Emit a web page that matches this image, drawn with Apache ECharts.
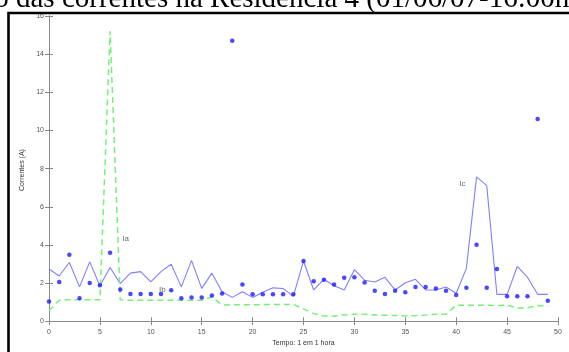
<!DOCTYPE html>
<html>
<head>
<meta charset="utf-8">
<script src="https://cdn.jsdelivr.net/npm/echarts@6/dist/echarts.min.js"></script>
<style>
  html, body { margin: 0; padding: 0; background: #fff; }
  #chart { width: 569px; height: 352px; }
</style>
</head>
<body>
<div id="chart"></div>
<script>
// Hourly readings, one per hour
const hours = [0,1,2,3,4,5,6,7,8,9,10,11,12,13,14,15,16,17,18,19,20,21,22,23,24,
               25,26,27,28,29,30,31,32,33,34,35,36,37,38,39,40,41,42,43,44,45,46,47,48,49];

// Phase A current (A) – dashed green
const ia = [0.55,1.10,1.12,1.12,1.12,1.12,15.2,1.12,1.10,1.10,1.10,1.10,1.10,1.10,1.10,1.10,1.28,0.85,
            0.87,0.87,0.87,0.87,0.88,0.88,0.88,0.65,0.40,0.28,0.26,0.33,0.37,0.37,0.33,0.31,0.30,0.28,
            0.30,0.33,0.37,0.37,0.84,0.84,0.84,0.84,0.82,0.84,0.70,0.70,0.82,0.80];

// Phase B current (A) – markers only
const ib = [1.04,2.06,3.48,1.21,2.01,1.89,3.59,1.67,1.43,1.43,1.43,1.43,1.62,1.21,1.25,1.25,1.35,1.45,
            14.7,1.92,1.41,1.41,1.41,1.41,1.41,3.16,2.09,2.18,1.92,2.28,2.30,2.03,1.60,1.43,1.60,1.52,
            1.79,1.80,1.72,1.60,1.38,1.75,4.01,1.75,2.74,1.31,1.31,1.31,10.6,1.08];

// Phase C current (A) – solid blue
const ic = [2.74,2.37,3.08,1.80,3.11,1.86,2.82,1.97,2.52,2.60,2.06,2.60,2.99,1.80,3.19,1.72,2.52,1.55,
            1.25,1.55,1.25,1.52,1.75,1.72,1.30,3.16,1.64,2.20,1.86,1.64,2.70,2.15,2.06,2.30,1.64,2.02,
            2.20,1.64,1.64,1.79,1.47,2.77,7.57,7.11,1.41,1.41,2.87,2.31,1.41,1.41];

const yTicks = [0,2,4,6,8,10,12,14,16];
// In-plot curve names: [x, y, text]
const curveLabels = [[7.2, 4.3, 'Ia'], [10.8, 1.63, 'Ib'], [40.3, 7.2, 'Ic']];

const titleLead = 'Variação ';
const titleRest = 'das correntes na Residência 4 (01/06/07-16:00h)';

const titleFont = '29px "Liberation Serif", "Times New Roman", serif';
const measureCtx = document.createElement('canvas').getContext('2d');
measureCtx.font = titleFont;
const leadWidth = measureCtx.measureText(titleLead).width;

const axisGray = '#8a8a8a';
const tickFont = { fontSize: 7, color: '#555', fontFamily: '"Liberation Sans", Arial, sans-serif' };

const pairs = arr => hours.map((h, i) => [h, arr[i]]);

const chart = echarts.init(document.getElementById('chart'), null, { renderer: 'canvas' });

const boxAxis = {
  axisLine: { show: true, lineStyle: { color: axisGray, width: 1 } },
  splitLine: { show: false }
};

chart.setOption({
  animation: false,
  backgroundColor: '#fff',
  grid: { left: 49, right: 11, top: 16, bottom: 18.7, containLabel: false },
  graphic: [
    {
      type: 'text',
      x: 16 - leadWidth,
      y: -1,
      style: {
        text: titleLead + titleRest,
        font: titleFont,
        fill: '#000',
        verticalAlign: 'middle'
      },
      z: 10
    },
    {
      type: 'rect',
      shape: { x: 8.5, y: 13, width: 800, height: 600 },
      style: { fill: 'none', stroke: '#000', lineWidth: 2.6 },
      z: 10
    }
  ],
  xAxis: [
    Object.assign({}, boxAxis, {
      type: 'value', min: 0, max: 50, interval: 5, position: 'bottom',
      axisTick: { show: true, inside: true, length: 4, lineStyle: { color: axisGray } },
      axisLabel: Object.assign({ margin: 4 }, tickFont),
      name: 'Tempo: 1 em 1 hora', nameLocation: 'middle', nameGap: 14,
      nameTextStyle: { fontSize: 7, color: '#333', fontFamily: '"Liberation Sans", Arial, sans-serif' }
    }),
    Object.assign({}, boxAxis, {
      type: 'value', min: 0, max: 50, interval: 5, position: 'top',
      axisTick: { show: true, inside: true, length: 4, lineStyle: { color: axisGray } },
      axisLabel: { show: false }
    })
  ],
  yAxis: [
    Object.assign({}, boxAxis, {
      type: 'value', min: -0.15, max: 16, position: 'left',
      axisTick: { show: true, inside: true, length: 4, customValues: yTicks, lineStyle: { color: axisGray } },
      axisLabel: Object.assign({ margin: 5, customValues: yTicks }, tickFont),
      name: 'Correntes (A)', nameLocation: 'middle', nameGap: 17,
      nameTextStyle: { fontSize: 7, color: '#333', fontFamily: '"Liberation Sans", Arial, sans-serif' }
    }),
    Object.assign({}, boxAxis, {
      type: 'value', min: -0.15, max: 16, position: 'right',
      axisTick: { show: true, inside: true, length: 4, customValues: yTicks, lineStyle: { color: axisGray } },
      axisLabel: { show: false }
    })
  ],
  series: [
    {
      name: 'Ic', type: 'line', data: pairs(ic), symbol: 'none',
      lineStyle: { color: '#8080ff', width: 1.1 }, z: 2
    },
    {
      name: 'Ia', type: 'line', data: pairs(ia), symbol: 'none',
      lineStyle: { color: '#78f078', width: 1.5, type: [6, 4] }, z: 3
    },
    {
      name: 'Ib', type: 'scatter', data: pairs(ib), symbol: 'circle', symbolSize: 4.5,
      itemStyle: { color: '#1a1aff' }, z: 4
    },
    {
      type: 'scatter', data: curveLabels, symbolSize: 0, silent: true, z: 5,
      label: {
        show: true, position: 'right', distance: 0,
        formatter: p => p.data[2],
        fontSize: 8, color: '#444', fontFamily: '"Liberation Sans", Arial, sans-serif'
      }
    }
  ]
});
</script>
</body>
</html>
